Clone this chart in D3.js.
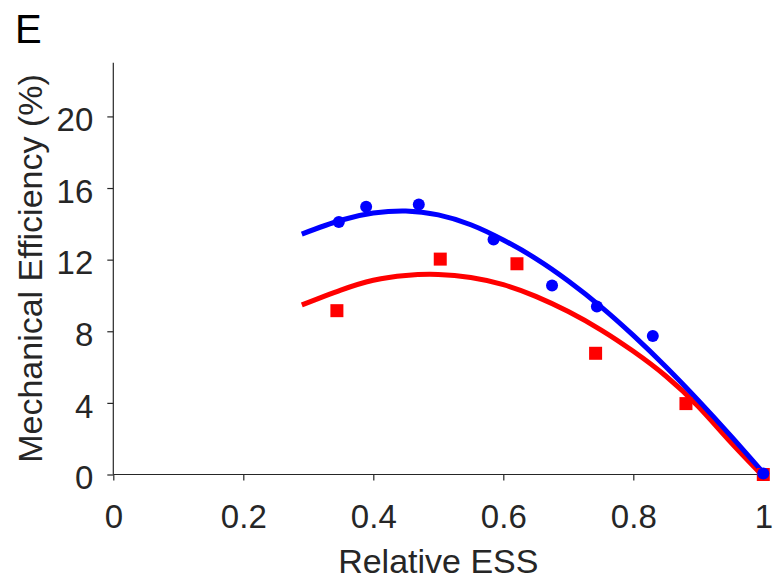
<!DOCTYPE html>
<html>
<head>
<meta charset="utf-8">
<script src="https://cdn.jsdelivr.net/npm/d3@7"></script>
<style>
  html, body { margin: 0; padding: 0; background: #fff; }
  svg { display: block; font-family: "Liberation Sans", Arial, Helvetica, sans-serif; }
</style>
</head>
<body>
<svg id="chart" width="775" height="579"></svg>
<script>
// Measured data: relative ESS vs. mechanical efficiency
const blueX = [0.347, 0.389, 0.470, 0.585, 0.675, 0.744, 0.830, 1.000];
const blueY = [14.10, 14.95, 15.08, 13.12, 10.55, 9.38, 7.74, 0.05];
const redX = [0.344, 0.503, 0.621, 0.742, 0.881, 1.000];
const redY = [9.15, 12.03, 11.77, 6.77, 3.96, 0.00];

// Fitted trend curves, sampled along x
const blueFitX = [0.29, 0.35, 0.40, 0.45, 0.50, 0.55, 0.60, 0.65, 0.70, 0.75, 0.80, 0.85, 0.90, 0.95, 1.00];
const blueFitY = [13.43, 14.20, 14.60, 14.72, 14.50, 13.95, 13.10, 12.06, 10.81, 9.38, 7.77, 6.02, 4.14, 2.16, 0.10];
const redFitX = [0.29, 0.35, 0.40, 0.45, 0.50, 0.55, 0.60, 0.65, 0.70, 0.75, 0.80, 0.85, 0.90, 0.95, 1.00];
const redFitY = [9.47, 10.30, 10.85, 11.12, 11.17, 11.00, 10.60, 9.95, 9.10, 8.08, 6.88, 5.50, 3.80, 1.80, -0.10];

const xTicks = [0, 0.2, 0.4, 0.6, 0.8, 1];
const yTicks = [0, 4, 8, 12, 16, 20];

const axisColor = "#262626";
const svg = d3.select("#chart");

const x = d3.scaleLinear().domain([0, 1]).range([113.3, 763.3]);
const y = d3.scaleLinear().domain([0, 23]).range([474.5, 62.7]);

// Axes (left and bottom only, ticks pointing outward)
const gx = svg.append("g").attr("transform", `translate(0,${y(0)})`)
  .call(d3.axisBottom(x).tickValues(xTicks).tickFormat(d3.format("~g")).tickSize(6).tickPadding(24.5));
const gy = svg.append("g").attr("transform", `translate(${x(0)},0)`)
  .call(d3.axisLeft(y).tickValues(yTicks).tickFormat(d3.format("~g")).tickSize(6).tickPadding(14));

[gx, gy].forEach(g => {
  g.select(".domain").attr("stroke", axisColor).attr("stroke-width", 1.2);
  g.selectAll(".tick line").attr("stroke", axisColor).attr("stroke-width", 1.2);
  g.selectAll(".tick text").attr("fill", axisColor).attr("font-size", 33)
    .attr("font-family", "'Liberation Sans', Arial, sans-serif");
});
gy.selectAll(".tick text").attr("dy", "0.43em");
// Plain axis lines without end caps
gx.select(".domain").attr("d", `M${x(0)},0H${x(1)}`);
gy.select(".domain").attr("d", `M0,${y(0)}V${y(23)}`);

// Axis titles
svg.append("text")
  .attr("x", (x(0) + x(1)) / 2).attr("y", 572.5)
  .attr("text-anchor", "middle").attr("font-size", 34).attr("fill", axisColor)
  .text("Relative ESS");
svg.append("text")
  .attr("transform", "translate(41.5,268.5) rotate(-90)")
  .attr("text-anchor", "middle").attr("font-size", 34).attr("fill", axisColor)
  .text("Mechanical Efficiency (%)");

// Panel letter
svg.append("text").attr("x", 15).attr("y", 43).attr("font-size", 40).attr("fill", "#000").text("E");

// Fit curves
const line = d3.line().x(d => x(d[0])).y(d => y(d[1])).curve(d3.curveNatural);
svg.append("path").datum(d3.zip(redFitX, redFitY))
  .attr("d", line).attr("fill", "none").attr("stroke", "#ff0000").attr("stroke-width", 5);
svg.append("path").datum(d3.zip(blueFitX, blueFitY))
  .attr("d", line).attr("fill", "none").attr("stroke", "#0000ff").attr("stroke-width", 5);

// Data markers
const sq = 13;
svg.append("g").selectAll("rect").data(d3.zip(redX, redY)).join("rect")
  .attr("x", d => x(d[0]) - sq / 2).attr("y", d => y(d[1]) - sq / 2)
  .attr("width", sq).attr("height", sq).attr("fill", "#ff0000");
svg.append("g").selectAll("circle").data(d3.zip(blueX, blueY)).join("circle")
  .attr("cx", d => x(d[0])).attr("cy", d => y(d[1])).attr("r", 6).attr("fill", "#0000ff");
</script>
</body>
</html>
